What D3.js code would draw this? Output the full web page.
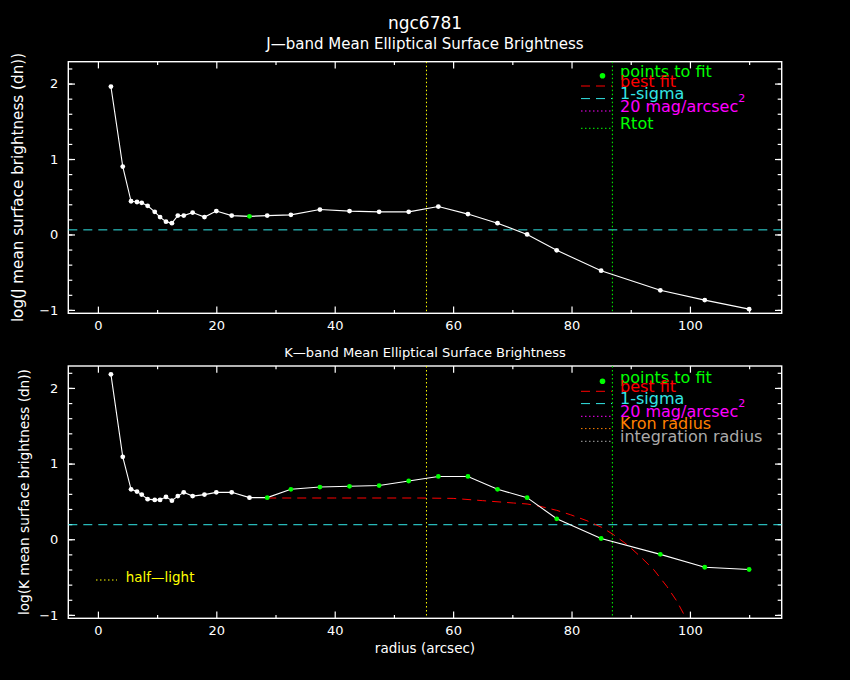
<!DOCTYPE html>
<html>
<head>
<meta charset="utf-8">
<script src="https://cdn.jsdelivr.net/npm/d3@7"></script>
<style>
  html, body { margin: 0; padding: 0; background: #000; }
  text { font-family: "DejaVu Sans", sans-serif; }
</style>
</head>
<body>
<div id="wrapper"></div>
<script>
// profile radii (arcsec) shared by both bands
const radius = [2.2, 4.2, 5.6, 6.6, 7.4, 8.4, 9.6, 10.5, 11.5, 12.5, 13.5, 14.5, 16.0, 18.0, 20.0, 22.6,
    25.6, 28.6, 32.6, 37.5, 42.5, 47.5, 52.5, 57.5, 62.5, 67.5, 72.5, 77.5, 85.0, 95.0, 102.5, 110.0]

const jValues = [1.96, 0.90, 0.44, 0.43, 0.42, 0.38, 0.30, 0.23, 0.17, 0.15, 0.25, 0.25, 0.29, 0.23, 0.31, 0.25,
    0.24, 0.25, 0.26, 0.33, 0.31, 0.30, 0.30, 0.37, 0.27, 0.15, 0.00, -0.21, -0.48, -0.74, -0.87, -0.99]
const kValues = [2.18, 1.09, 0.66, 0.63, 0.59, 0.53, 0.52, 0.52, 0.56, 0.51, 0.57, 0.62, 0.57, 0.59, 0.62, 0.62,
    0.55, 0.55, 0.66, 0.69, 0.70, 0.71, 0.77, 0.83, 0.83, 0.66, 0.55, 0.27, 0.01, -0.20, -0.37, -0.40]

// which points were used in the fit
const jFitPoints = [25.6]
const kFitPoints = [28.6, 32.6, 37.5, 42.5, 47.5, 52.5, 57.5, 62.5, 67.5, 72.5, 77.5, 85.0, 95.0, 102.5, 110.0]

// K-band best fit curve
const kFitRadius = [28.6, 40, 54.4, 60, 65, 70.2, 72.5, 74.7, 77.5, 79.8, 82.6, 85.1, 87.1, 89.4, 91.6, 93.9, 96.1, 97.8, 99.3]
const kFitValues = [0.545, 0.545, 0.545, 0.54, 0.51, 0.479, 0.466, 0.435, 0.382, 0.325, 0.245, 0.157, 0.06, -0.072,
    -0.227, -0.403, -0.623, -0.82, -1.04]

const jSigma = 0.061
const kSigma = 0.192
const halfLight = 55.5
const rTot = 86.9

const xTicks = [0, 20, 40, 60, 80, 100]
const xMinor = [10, 30, 50, 70, 90, 110]
const yTicks = [-1, 0, 1, 2]

const jLegend = ['points to fit', 'best fit', '1-sigma', '20 mag/arcsec', 'Rtot']
const kLegend = ['points to fit', 'best fit', '1-sigma', '20 mag/arcsec', 'Kron radius', 'integration radius']

const GREEN = '#00ff00', RED = '#ff0000', CYAN = '#33e6e6', MAGENTA = '#ff00ff',
    ORANGE = '#ff8000', GRAY = '#aaaaaa', YELLOW = '#ffff00'

const legendStyle = {
    'points to fit': { color: GREEN, dash: null },
    'best fit': { color: RED, dash: '9,6' },
    '1-sigma': { color: CYAN, dash: '9,6' },
    '20 mag/arcsec': { color: MAGENTA, dash: '1.5,2.5' },
    'Rtot': { color: GREEN, dash: '1.5,2.5' },
    'Kron radius': { color: ORANGE, dash: '1.5,2.5' },
    'integration radius': { color: GRAY, dash: '1.5,2.5' }
}

const svg = d3.select('#wrapper')
    .append('svg')
        .attr('width', 850)
        .attr('height', 680)
        .style('background', '#000')

svg.append('rect').attr('width', 850).attr('height', 680).attr('fill', '#000')

const x = d3.scaleLinear().domain([-5, 115.5]).range([68.3, 781.7])

svg.append('text')
    .attr('x', 425).attr('y', 29.3)
    .attr('text-anchor', 'middle')
    .attr('fill', '#fff')
    .style('font-size', '17px')
    .text('ngc6781')

const drawPanel = function (opt) {
    const y = d3.scaleLinear().domain([-1.045, 2.29]).range([opt.bottom, opt.top])
    const g = svg.append('g')

    const clipId = 'clip' + opt.name
    svg.append('clipPath').attr('id', clipId)
        .append('rect')
            .attr('x', x.range()[0]).attr('y', opt.top)
            .attr('width', x.range()[1] - x.range()[0])
            .attr('height', opt.bottom - opt.top)

    // axes
    g.append('g')
        .attr('transform', 'translate(0,' + opt.bottom + ')')
        .call(d3.axisBottom(x).tickValues(xTicks).tickSize(-6.7).tickPadding(7).tickFormat(d3.format('d')))
    g.append('g')
        .attr('transform', 'translate(0,' + opt.bottom + ')')
        .call(d3.axisBottom(x).tickValues(xMinor).tickSize(-3.3).tickFormat(''))
    g.append('g')
        .attr('transform', 'translate(0,' + opt.top + ')')
        .call(d3.axisTop(x).tickValues(xTicks).tickSize(-6.7).tickFormat(''))
    g.append('g')
        .attr('transform', 'translate(0,' + opt.top + ')')
        .call(d3.axisTop(x).tickValues(xMinor).tickSize(-3.3).tickFormat(''))

    const yMinor = d3.range(-1, 2.3, 0.2).map(v => Math.round(v * 10) / 10)
    g.append('g')
        .attr('transform', 'translate(' + x.range()[0] + ',0)')
        .call(d3.axisLeft(y).tickValues(yTicks).tickSize(-6.7).tickPadding(10).tickFormat(d3.format('d')))
    g.append('g')
        .attr('transform', 'translate(' + x.range()[0] + ',0)')
        .call(d3.axisLeft(y).tickValues(yMinor).tickSize(-4).tickFormat(''))
    g.append('g')
        .attr('transform', 'translate(' + x.range()[1] + ',0)')
        .call(d3.axisRight(y).tickValues(yTicks).tickSize(-6.7).tickFormat(''))
    g.append('g')
        .attr('transform', 'translate(' + x.range()[1] + ',0)')
        .call(d3.axisRight(y).tickValues(yMinor).tickSize(-4).tickFormat(''))

    g.selectAll('.domain').remove()
    g.selectAll('.tick line').attr('stroke', '#fff').attr('stroke-width', 1.2)
    g.selectAll('.tick text').attr('fill', '#fff').style('font-size', '13px')
        .style('font-family', '"DejaVu Sans", sans-serif')

    g.append('rect')
        .attr('x', x.range()[0]).attr('y', opt.top)
        .attr('width', x.range()[1] - x.range()[0])
        .attr('height', opt.bottom - opt.top)
        .attr('fill', 'none')
        .attr('stroke', '#fff')
        .attr('stroke-width', 1.4)

    // titles
    svg.append('text')
        .attr('x', 425).attr('y', opt.top - opt.subOffset)
        .attr('text-anchor', 'middle')
        .attr('fill', '#fff')
        .style('font-size', opt.subSize + 'px')
        .text(opt.title)

    svg.append('text')
        .attr('transform', 'translate(' + opt.ylabX + ',' + ((opt.top + opt.bottom) / 2) + ') rotate(-90)')
        .attr('text-anchor', 'middle')
        .attr('fill', '#fff')
        .style('font-size', opt.ylabSize + 'px')
        .text(opt.ylabel)

    const plot = g.append('g').attr('clip-path', 'url(#' + clipId + ')')

    // sigma level
    plot.append('line')
        .attr('x1', x.range()[0]).attr('x2', x.range()[1])
        .attr('y1', y(opt.sigma)).attr('y2', y(opt.sigma))
        .attr('stroke', CYAN).attr('stroke-width', 1)
        .attr('stroke-dasharray', '9,6')

    // verticals
    const vlines = [{ r: halfLight, c: YELLOW }, { r: rTot, c: GREEN }]
    plot.selectAll('.vline')
        .data(vlines)
        .join('line')
            .attr('x1', d => x(d.r)).attr('x2', d => x(d.r))
            .attr('y1', opt.top).attr('y2', opt.bottom)
            .attr('stroke', d => d.c).attr('stroke-width', 1)
            .attr('stroke-dasharray', '1.5,2.5')

    // best fit
    if (opt.fitX) {
        plot.append('path')
            .datum(d3.zip(opt.fitX, opt.fitY))
            .attr('fill', 'none')
            .attr('stroke', RED).attr('stroke-width', 1)
            .attr('stroke-dasharray', '9,6')
            .attr('d', d3.line().x(d => x(d[0])).y(d => y(d[1])))
    }

    // profile
    const pts = d3.zip(radius, opt.values)
    plot.append('path')
        .datum(pts)
        .attr('fill', 'none')
        .attr('stroke', '#fff').attr('stroke-width', 1.1)
        .attr('d', d3.line().x(d => x(d[0])).y(d => y(d[1])))

    plot.selectAll('.pt')
        .data(pts)
        .join('circle')
            .attr('cx', d => x(d[0]))
            .attr('cy', d => y(d[1]))
            .attr('r', 2.4)
            .attr('fill', d => opt.fitPts.includes(d[0]) ? GREEN : '#fff')

    // legend
    const lg = svg.append('g')
    opt.legend.forEach((name, i) => {
        const st = legendStyle[name]
        const by = opt.top + opt.legendY[i]
        const t = lg.append('text')
            .attr('x', 620).attr('y', by)
            .attr('fill', st.color)
            .style('font-size', '16px')
            .text(name)
        if (name === '20 mag/arcsec') {
            t.append('tspan').attr('dy', -10).style('font-size', '11px').text('2')
        }
        if (st.dash) {
            lg.append('line')
                .attr('x1', 581).attr('x2', 612)
                .attr('y1', by - 0.7).attr('y2', by - 0.7)
                .attr('stroke', st.color).attr('stroke-width', 1)
                .attr('stroke-dasharray', st.dash)
        } else {
            lg.append('circle')
                .attr('cx', 602.5).attr('cy', by - 1.5).attr('r', 2.8)
                .attr('fill', st.color)
        }
    })
    return g
}

drawPanel({
    name: 'J', top: 61.7, bottom: 313.3,
    values: jValues, fitPts: jFitPoints, sigma: jSigma,
    title: 'J\u2014band Mean Elliptical Surface Brightness', subSize: 15, subOffset: 12.3,
    ylabel: 'log(J mean surface brightness (dn))', ylabX: 22.5, ylabSize: 15.2,
    legend: jLegend, legendY: [15.6, 25, 37.6, 50, 67.3]
})

drawPanel({
    name: 'K', top: 366, bottom: 618.3,
    values: kValues, fitPts: kFitPoints, sigma: kSigma,
    fitX: kFitRadius, fitY: kFitValues,
    title: 'K\u2014band Mean Elliptical Surface Brightness', subSize: 13.1, subOffset: 9.3,
    ylabel: 'log(K mean surface brightness (dn))', ylabX: 29, ylabSize: 13.6,
    legend: kLegend, legendY: [16.7, 26, 38.3, 51, 63.3, 76]
})

// half-light key in the lower panel
svg.append('line')
    .attr('x1', 96).attr('x2', 117)
    .attr('y1', 580).attr('y2', 580)
    .attr('stroke', YELLOW).attr('stroke-width', 1)
    .attr('stroke-dasharray', '1.5,2.5')
svg.append('text')
    .attr('x', 125.7).attr('y', 581.7)
    .attr('fill', YELLOW)
    .style('font-size', '13.5px')
    .text('half\u2014light')

svg.append('text')
    .attr('x', 425).attr('y', 653.3)
    .attr('text-anchor', 'middle')
    .attr('fill', '#fff')
    .style('font-size', '13.5px')
    .text('radius (arcsec)')
</script>
</body>
</html>
